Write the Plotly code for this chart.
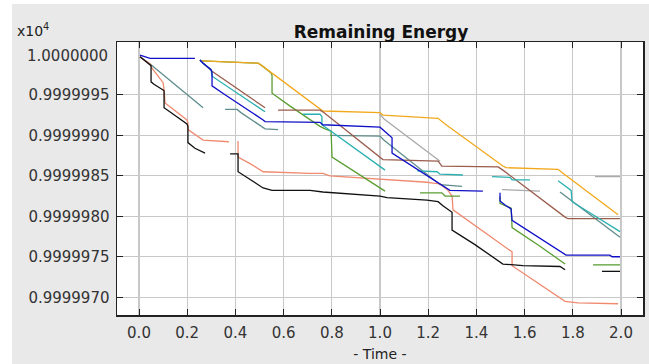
import plotly.graph_objects as go

# ---------------- data (y in units of x10^4) ----------------
x_ticks = [0.0, 0.2, 0.4, 0.6, 0.8, 1.0, 1.2, 1.4, 1.6, 1.8, 2.0]
x_tick_text = ["0.0", "0.2", "0.4", "0.6", "0.8", "1.0", "1.2", "1.4", "1.6", "1.8", "2.0"]
y_ticks = [0.9999970, 0.9999975, 0.9999980, 0.9999985, 0.9999990, 0.9999995]
y_tick_text = ["0.9999970", "0.9999975", "0.9999980", "0.9999985", "0.9999990", "0.9999995"]
y_top_label = "1.0000000"

black_x = [0.004, 0.046, 0.050, 0.050, 0.062, 0.100, 0.104, 0.104, 0.149, 0.199, 0.203, 0.203, 0.232, 0.274, None,
           0.378, 0.411, 0.411, 0.461, 0.515, 0.552, 0.710, 0.763, 0.867, 1.000, 1.029, 1.195, 1.241, 1.261,
           1.299, 1.299, 1.394, 1.510, 1.593, 1.747, 1.768, None,
           1.921, 1.996]
black_y = [0.99999997, 0.99999987, 0.99999986, 0.99999966, 0.99999963, 0.99999956, 0.99999955, 0.99999934,
           0.99999924, 0.99999914, 0.99999911, 0.99999891, 0.99999884, 0.99999878, None,
           0.99999877, 0.99999877, 0.99999855, 0.99999845, 0.99999835, 0.99999832, 0.99999832, 0.99999830,
           0.99999828, 0.99999825, 0.99999823, 0.99999820, 0.99999818, 0.99999813, 0.99999805, 0.99999783,
           0.99999765, 0.99999741, 0.99999739, 0.99999738, 0.99999734, None,
           0.99999732, 0.99999732]

salmon_x = [0.004, 0.046, 0.054, 0.100, 0.104, 0.108, 0.199, 0.203, 0.203, 0.266, 0.373, None,
            0.411, 0.411, 0.461, 0.515, 0.710, 0.763, 0.793, 0.905, 1.000, 1.195, 1.220, 1.249, 1.282,
            1.299, 1.303, 1.373, 1.498, 1.539, 1.548, 1.548, 1.664, 1.768, 1.822, 1.988]
salmon_y = [0.99999997, 0.99999988, 0.99999983, 0.99999965, 0.99999956, 0.99999940, 0.99999919, 0.99999916,
            0.99999907, 0.99999894, 0.99999892, None,
            0.99999893, 0.99999873, 0.99999865, 0.99999855, 0.99999853, 0.99999853, 0.99999850, 0.99999848,
            0.99999846, 0.99999842, 0.99999841, 0.99999840, 0.99999832, 0.99999825, 0.99999808, 0.99999793,
            0.99999766, 0.99999758, 0.99999756, 0.99999739, 0.99999716, 0.99999695, 0.99999693, 0.99999692]

blue_x = [0.004, 0.025, 0.046, 0.232, None,
          0.253, 0.266, 0.299, 0.303, 0.303, 0.357, 0.515, 0.523, 0.751, 0.763, 1.000, 1.029, 1.050, 1.050,
          1.166, 1.290, 1.427, None,
          1.498, 1.498, 1.519, 1.544, 1.548, 1.664, 1.759, 1.772, 1.954, 1.963, 1.996]
blue_y = [0.99999999, 0.99999997, 0.99999995, 0.99999995, None,
          0.99999993, 0.99999989, 0.99999981, 0.99999978, 0.99999961, 0.99999950, 0.99999919, 0.99999917,
          0.99999916, 0.99999913, 0.99999910, 0.99999903, 0.99999897, 0.99999878, 0.99999856, 0.99999832,
          0.99999831, None,
          0.99999829, 0.99999819, 0.99999814, 0.99999809, 0.99999795, 0.99999773, 0.99999755, 0.99999752,
          0.99999752, 0.99999750, 0.99999750]

orange_x = [0.261, 0.494, 0.510, 0.647, 0.763, 1.000, 1.012, 1.241, 1.270, 1.510, 1.523, 1.739, 1.755, 1.988]
orange_y = [0.99999992, 0.99999989, 0.99999986, 0.99999956, 0.99999930, 0.99999928, 0.99999925, 0.99999921,
            0.99999914, 0.99999862, 0.99999860, 0.99999858, 0.99999854, 0.99999802]

green_x = [0.261, 0.494, 0.510, 0.548, 0.552, 0.552, 0.627, 0.751, 0.772, 0.797, 0.801, 0.917, 1.021, None,
           1.166, 1.257, 1.270, 1.332, None,
           1.498, 1.498, 1.544, 1.548, 1.664, 1.768, None,
           1.884, 1.996]
green_y = [0.99999992, 0.99999989, 0.99999986, 0.99999977, 0.99999974, 0.99999952, 0.99999936, 0.99999911,
           0.99999908, 0.99999905, 0.99999873, 0.99999851, 0.99999831, None,
           0.99999829, 0.99999829, 0.99999825, 0.99999825, None,
           0.99999824, 0.99999816, 0.99999810, 0.99999786, 0.99999763, 0.99999741, None,
           0.99999740, 0.99999740]

teal_x = [0.253, 0.266, 0.299, 0.303, 0.523, None,
          0.680, 0.751, 0.759, 0.759, 0.797, 1.021, None,
          1.154, 1.237, 1.249, 1.344, None,
          1.465, 1.539, 1.548, 1.622, None,
          1.739, 1.793, 1.797, 1.913, 1.996]
teal_y = [0.99999993, 0.99999989, 0.99999981, 0.99999973, 0.99999929, None,
          0.99999926, 0.99999926, 0.99999923, 0.99999913, 0.99999905, 0.99999857, None,
          0.99999856, 0.99999855, 0.99999852, 0.99999851, None,
          0.99999849, 0.99999848, 0.99999845, 0.99999845, None,
          0.99999844, 0.99999832, 0.99999818, 0.99999797, 0.99999781]

brown_x = [0.253, 0.266, 0.303, 0.523, None,
           0.577, 0.751, 0.763, 1.000, 1.012, 1.241, 1.257, 1.490, 1.510, 1.768, 1.780, 1.996]
brown_y = [0.99999993, 0.99999989, 0.99999979, 0.99999934, None,
           0.99999931, 0.99999931, 0.99999929, 0.99999872, 0.99999870, 0.99999868, 0.99999862, 0.99999861,
           0.99999857, 0.99999799, 0.99999797, 0.99999797]

gray_x = [1.000, 1.017, 1.249, None, 1.506, 1.664, None, 1.892, 1.996]
gray_y = [0.99999926, 0.99999920, 0.99999868, None, 0.99999833, 0.99999831, None, 0.99999849, 0.99999849]

slate_x = [0.004, 0.046, 0.266, None,
           0.357, 0.407, 0.423, 0.510, 0.523, 0.577, None,
           0.793, 1.000, 1.017, 1.249, 1.340, None,
           1.747, 1.996]
slate_y = [0.99999997, 0.99999988, 0.99999934, None,
           0.99999932, 0.99999932, 0.99999928, 0.99999910, 0.99999908, 0.99999907, None,
           0.99999900, 0.99999899, 0.99999894, 0.99999839, 0.99999837, None,
           0.99999830, 0.99999774]

series = [
    (gray_x, gray_y, "#a9a9a9"),
    (slate_x, slate_y, "#5f8c8c"),
    (salmon_x, salmon_y, "#f08a70"),
    (black_x, black_y, "#111111"),
    (green_x, green_y, "#5a9e32"),
    (orange_x, orange_y, "#f2a81d"),
    (brown_x, brown_y, "#9a5c4c"),
    (teal_x, teal_y, "#2ab0b0"),
    (blue_x, blue_y, "#1010c8"),
]

fig = go.Figure()
for xs, ys, col in series:
    fig.add_trace(go.Scatter(x=xs, y=ys, mode="lines", line=dict(color=col, width=1.3),
                             showlegend=False, hoverinfo="skip"))

font_main = "DejaVu Sans"
fig.update_layout(
    width=649, height=364,
    margin=dict(l=117, r=6, t=42, b=49, autoexpand=False),
    paper_bgcolor="#e9e9e9",
    plot_bgcolor="#ffffff",
    font=dict(family=font_main, size=15, color="#222222"),
    title=dict(text="<b>Remaining Energy</b>", x=381 / 649, xanchor="center",
               y=1 - 32 / 364, yanchor="middle", yref="container", automargin=False,
               font=dict(family=font_main, size=17, color="#111111")),
    xaxis=dict(range=[-0.0913, 2.0913], tickvals=x_ticks, ticktext=x_tick_text, automargin=False,
               showgrid=True, gridcolor="#c8c8c8", gridwidth=1.2, zeroline=False,
               ticks="inside", ticklen=6, tickcolor="#222222",
               showline=True, linecolor="#222222", linewidth=1.5, mirror="ticks",
               tickfont=dict(size=15, color="#333333"), ticklabelstandoff=3,
               title=dict(text="- Time -", standoff=8, font=dict(size=14, color="#222222"))),
    yaxis=dict(range=[0.999996781, 1.000000152], tickvals=y_ticks, ticktext=y_tick_text, automargin=False,
               showgrid=True, gridcolor="#c8c8c8", gridwidth=1.2, zeroline=False,
               ticks="inside", ticklen=6, tickcolor="#222222",
               showline=True, linecolor="#222222", linewidth=1.5, mirror="ticks",
               tickfont=dict(size=15, color="#333333"), ticklabelstandoff=3),
    shapes=[
        dict(type="rect", xref="paper", yref="paper", x0=-0.25, x1=-0.1996, y0=-0.3, y1=1.3,
             fillcolor="#ffffff", line=dict(width=0), layer="below"),
        dict(type="rect", xref="paper", yref="paper", x0=-0.25, x1=1.1, y0=1.1392, y1=1.3,
             fillcolor="#ffffff", line=dict(width=0), layer="below"),
    ],
    annotations=[
        dict(text="x10<sup>4</sup>", xref="paper", yref="paper", x=(15 - 117) / 526, y=(315 - 30) / 273,
             xanchor="left", yanchor="middle", showarrow=False,
             font=dict(family=font_main, size=14, color="#222222")),
        dict(text=y_top_label, xref="paper", yref="y", x=(110 - 117) / 526, y=0.99999998,
             xanchor="right", yanchor="middle", showarrow=False,
             font=dict(family=font_main, size=15, color="#333333")),
    ],
)

fig.write_html("out.html", config={"displayModeBar": False, "staticPlot": True},
               post_script="document.body.style.margin='0';document.body.style.overflow='hidden';")
